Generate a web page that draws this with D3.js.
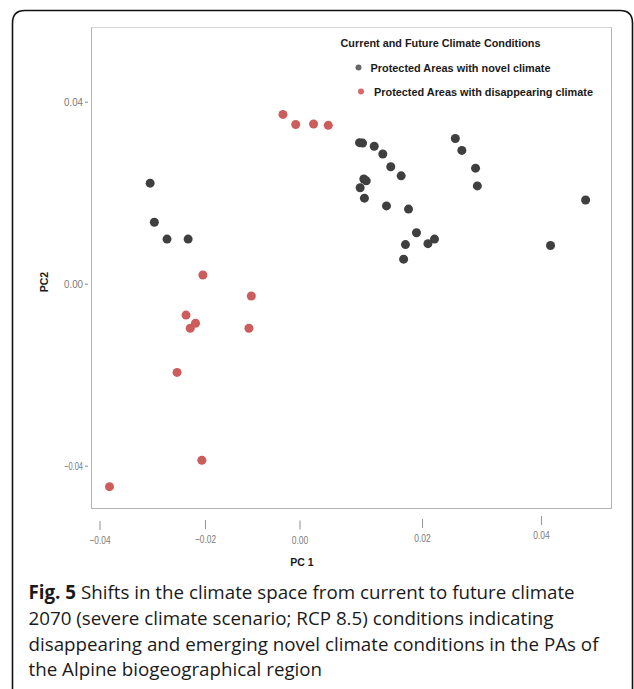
<!DOCTYPE html>
<html>
<head>
<meta charset="utf-8">
<script src="https://cdn.jsdelivr.net/npm/d3@7"></script>
<style>
  html, body { margin: 0; padding: 0; background: #fff; }
  svg { display: block; }
</style>
</head>
<body>
<script>
// PCA scores of protected areas (PC1, PC2)
const novelPC1 = [-0.0304, -0.0296, -0.0272, -0.0232, 0.0098, 0.0103, 0.0122, 0.0136, 0.0149,
  0.0166, 0.0105, 0.0109, 0.0099, 0.0106, 0.0142, 0.0178, 0.0256, 0.0267, 0.0290, 0.0293,
  0.0475, 0.0191, 0.0173, 0.0210, 0.0221, 0.0170, 0.0416];
const novelPC2 = [0.0221, 0.0135, 0.0098, 0.0098, 0.0310, 0.0309, 0.0302, 0.0285, 0.0257,
  0.0237, 0.0230, 0.0226, 0.0211, 0.0188, 0.0171, 0.0164, 0.0319, 0.0293, 0.0254, 0.0215,
  0.0184, 0.0112, 0.0086, 0.0088, 0.0098, 0.0054, 0.0084];
const disappearingPC1 = [-0.0035, -0.0008, 0.0023, 0.0047, -0.0204, -0.0102, -0.0236, -0.0218,
  -0.0228, -0.0107, -0.0253, -0.0206, -0.0381];
const disappearingPC2 = [0.0372, 0.0350, 0.0351, 0.0348, 0.0019, -0.0027, -0.0069, -0.0087,
  -0.0098, -0.0098, -0.0195, -0.0388, -0.0446];

const xTicks = [-0.04, -0.02, 0.00, 0.02, 0.04];
const yTicks = [-0.04, 0.00, 0.04];
const legendTitle = "Current and Future Climate Conditions";
const seriesNames = ["Protected Areas with novel climate", "Protected Areas with disappearing climate"];
const captionLines = [
  "Shifts in the climate space from current to future climate",
  "2070 (severe climate scenario; RCP 8.5) conditions indicating",
  "disappearing and emerging novel climate conditions in the PAs of",
  "the Alpine biogeographical region"
];

const W = 634, H = 689;
const svg = d3.select("body").append("svg").attr("width", W).attr("height", H);

// outer frame, open at the bottom
svg.append("path")
  .attr("d", "M12.5,700 L12.5,23 Q12.5,10.5 25,10.5 L620,10.5 Q632.5,10.5 632.5,23 L632.5,700")
  .attr("fill", "none").attr("stroke", "#111").attr("stroke-width", 1.6);

// panel
const panel = { left: 91.5, top: 27.5, right: 611.5, bottom: 508.5 };
svg.append("rect")
  .attr("x", panel.left).attr("y", panel.top)
  .attr("width", panel.right - panel.left).attr("height", panel.bottom - panel.top)
  .attr("fill", "#fff").attr("stroke", "#b4b4b4").attr("stroke-width", 1);
svg.append("line")
  .attr("x1", panel.left).attr("x2", panel.right).attr("y1", panel.top).attr("y2", panel.top)
  .attr("stroke", "#d6d6d6").attr("stroke-width", 1.2);

// the printed PC1 axis is spaced unevenly, so the scale follows each tick
const x = d3.scaleLinear().domain(xTicks).range([99.5, 205, 299.5, 422, 541]);
const y = d3.scaleLinear().domain([-0.04, 0.04]).range([465.7, 101.7]);

const fmt = d3.format(".2f");
const tickFont = "'Liberation Sans', Arial, sans-serif";

// x axis
const xAxis = svg.append("g")
  .attr("transform", "translate(0,520)")
  .call(d3.axisBottom(x).tickValues(xTicks).tickFormat(fmt).tickSize(9).tickPadding(7));
xAxis.select(".domain").remove();
const xNudge = [1, 0, 0.5, -1, -4];
xAxis.selectAll(".tick").each(function(d, i) {
  const g = d3.select(this);
  g.attr("transform", g.attr("transform") + ` translate(0,${xNudge[i]})`);
});
xAxis.selectAll(".tick line").attr("stroke", "#9a9a9a").attr("stroke-width", 1.1);
xAxis.selectAll(".tick text")
  .attr("fill", "#7a7a7a").style("font-family", tickFont).style("font-size", "10.5px")
  .attr("textLength", d => d < 0 ? 21 : 16.5).attr("lengthAdjust", "spacingAndGlyphs");

// y axis
const yAxis = svg.append("g")
  .attr("transform", "translate(88,0)")
  .call(d3.axisLeft(y).tickValues(yTicks).tickFormat(fmt).tickSize(3).tickPadding(2));
yAxis.select(".domain").remove();
yAxis.selectAll(".tick line").attr("stroke", "#8a8a8a").attr("stroke-width", 1);
yAxis.selectAll(".tick text")
  .attr("fill", "#7a7a7a").style("font-family", tickFont).style("font-size", "10.5px")
  .attr("textLength", 19).attr("lengthAdjust", "spacingAndGlyphs");

// axis titles
svg.append("text")
  .attr("x", 302).attr("y", 566)
  .attr("text-anchor", "middle")
  .style("font-family", tickFont).style("font-size", "10.5px").style("font-weight", "bold")
  .attr("fill", "#1a1a1a").text("PC 1");
svg.append("text")
  .attr("transform", "translate(48,282) rotate(-90)")
  .attr("text-anchor", "middle")
  .style("font-family", tickFont).style("font-size", "10.5px").style("font-weight", "bold")
  .attr("fill", "#1a1a1a").text("PC2");

// points
const novelColor = "#3f3f3f", lostColor = "#cd5c5c";
const novel = novelPC1.map((v, i) => ({ pc1: v, pc2: novelPC2[i] }));
const lost = disappearingPC1.map((v, i) => ({ pc1: v, pc2: disappearingPC2[i] }));

svg.append("g").selectAll("circle").data(novel).join("circle")
  .attr("cx", d => x(d.pc1)).attr("cy", d => y(d.pc2)).attr("r", 4.5)
  .attr("fill", novelColor);
svg.append("g").selectAll("circle").data(lost).join("circle")
  .attr("cx", d => x(d.pc1)).attr("cy", d => y(d.pc2)).attr("r", 4.5)
  .attr("fill", lostColor);

// legend
const legend = svg.append("g").style("font-family", tickFont).style("font-weight", "bold")
  .style("font-size", "10.5px").attr("fill", "#1a1a1a");
legend.append("text").attr("x", 340.5).attr("y", 46.5)
  .attr("textLength", 200).attr("lengthAdjust", "spacingAndGlyphs").text(legendTitle);
const legendRows = [
  { name: seriesNames[0], color: "#676767", dotX: 358.5, y: 67.5, textX: 370.5, len: 180 },
  { name: seriesNames[1], color: "#d9686a", dotX: 361, y: 91.5, textX: 374, len: 219 }
];
legendRows.forEach(r => {
  legend.append("circle").attr("cx", r.dotX).attr("cy", r.y).attr("r", 3).attr("fill", r.color);
  legend.append("text").attr("x", r.textX).attr("y", r.y + 4)
    .attr("textLength", r.len).attr("lengthAdjust", "spacingAndGlyphs").text(r.name);
});

// caption
const cap = svg.append("g")
  .style("font-family", "'Open Sans', 'Noto Sans', sans-serif").style("font-size", "18.75px")
  .attr("fill", "#1a1a1a");
captionLines.forEach((line, i) => {
  const t = cap.append("text").attr("x", 28.5).attr("y", 599 + i * 25.8);
  if (i === 0) {
    t.append("tspan").style("font-weight", "bold").text("Fig. 5");
    t.append("tspan").text(" " + line);
  } else {
    t.text(line);
  }
});
</script>
</body>
</html>
